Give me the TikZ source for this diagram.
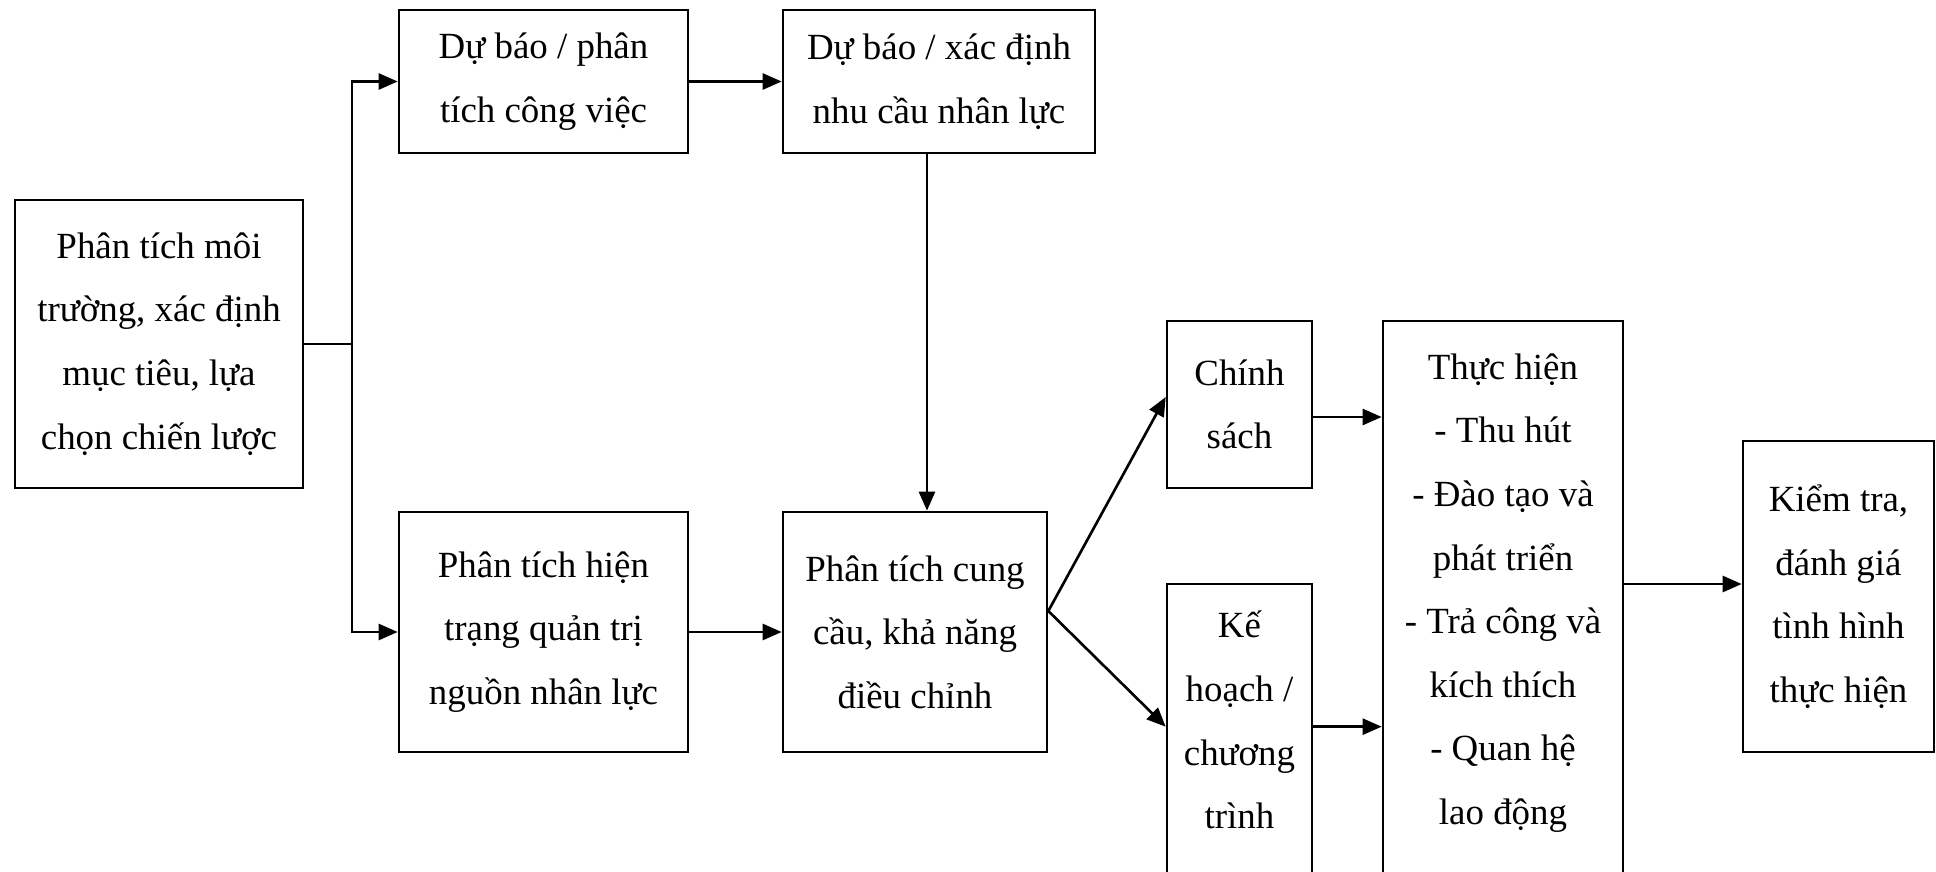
\documentclass[tikz,border=0pt]{standalone}
\usepackage{fontspec}
\setmainfont{Liberation Serif}
\usetikzlibrary{arrows.meta,calc}

\tikzset{
  caja/.style={draw, align=center, inner sep=0pt, font=\fontsize{10.5}{18.1}\selectfont},
  texto/.style={align=center, inner sep=0pt, font=\fontsize{10.5}{18.1}\selectfont}
}

\begin{document}
\begin{tikzpicture}[>={Triangle[length=1.9mm,width=1.6mm]}, line width=0.75pt]
  \useasboundingbox (0,0) rectangle (19.36,-8.71);
  \clip (0,0) rectangle (19.36,-8.71);

  % Cajas
  \node[caja, minimum width=2.88cm, minimum height=2.88cm] (A) at (1.59,-3.44)
    {Phân tích môi\\trường, xác định\\mục tiêu, lựa\\chọn chiến lược};
  \node[caja, minimum width=2.89cm, minimum height=1.43cm] (B) at (5.435,-0.815)
    {Dự báo / phân\\tích công việc};
  \node[caja, minimum width=3.12cm, minimum height=1.43cm] (C) at (9.39,-0.815)
    {Dự báo / xác định\\nhu cầu nhân lực};
  \node[caja, minimum width=2.89cm, minimum height=2.40cm] (D) at (5.435,-6.32)
    {Phân tích hiện\\trạng quản trị\\nguồn nhân lực};
  \node[caja, minimum width=2.64cm, minimum height=2.40cm] (E) at (9.15,-6.32)
    {Phân tích cung\\cầu, khả năng\\điều chỉnh};
  \node[caja, minimum width=1.45cm, minimum height=1.67cm] (F) at (12.395,-4.045)
    {Chính\\sách};
  \node[caja, minimum width=1.45cm, minimum height=3.46cm] (G) at (12.395,-7.57) {};
  \node[texto] (Gt) at (12.395,-7.20) {Kế\\hoạch /\\chương\\trình};
  \node[caja, minimum width=2.40cm, minimum height=6.09cm] (H) at (15.03,-6.255) {};
  \node[texto] (Ht) at (15.03,-5.93)
    {Thực hiện\\- Thu hút\\- Đào tạo và\\phát triển\\- Trả công và\\kích thích\\- Quan hệ\\lao động};
  \node[caja, minimum width=1.91cm, minimum height=3.11cm] (I) at (18.385,-5.965)
    {Kiểm tra,\\đánh giá\\tình hình\\thực hiện};

  % Flechas
  \coordinate (split) at (3.52,-3.44);
  \draw (A.east) -- (split);
  \draw[->] (split) |- (B.west);
  \draw[->] (split) |- (D.west);
  \draw[->] (B) -- (C);
  \coordinate (mid) at ($(C.south)!.5!(E.north)$);
  \draw[->] (mid |- C.south) -- (mid |- E.north);
  \draw[->] (D) -- (E);

  \coordinate (fork) at ([yshift=2.1mm]E.east);
  \draw[->] (fork) -- ([yshift=0.75mm]F.west);
  \draw[->] (fork) -- ([yshift=-14.4mm]G.north west);

  \coordinate (fh) at ([yshift=-1.25mm]F.east);
  \draw[->] (fh) -- (fh -| H.west);
  \coordinate (gh) at ([yshift=-14.4mm]G.north east);
  \draw[->] (gh) -- (gh -| H.west);
  \coordinate (hi) at ([yshift=1.25mm]I.west);
  \draw[->] (hi -| H.east) -- (hi);
\end{tikzpicture}
\end{document}
